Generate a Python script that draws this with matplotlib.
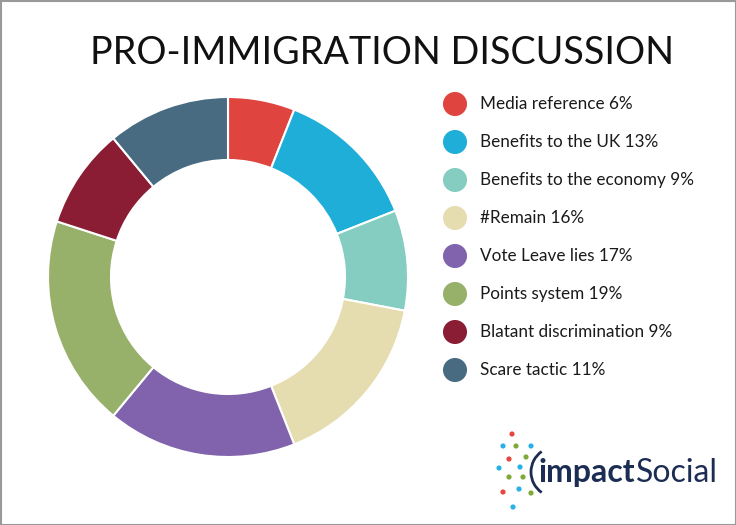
import matplotlib
matplotlib.use("Agg")
import matplotlib.pyplot as plt
from matplotlib.patches import Arc, Rectangle

categories = ["Media reference", "Benefits to the UK", "Benefits to the economy",
              "#Remain", "Vote Leave lies", "Points system",
              "Blatant discrimination", "Scare tactic"]
values = [6, 13, 9, 16, 17, 19, 9, 11]
colors = ["#E0443E", "#1FAED8", "#84CDC0", "#E5DDB0",
          "#8063AC", "#97B06A", "#8A1D33", "#486B82"]
title = "PRO-IMMIGRATION DISCUSSION"

W, H = 736, 525
fig = plt.figure(figsize=(W / 100, H / 100), dpi=100)
fig.patch.set_facecolor("white")

# donut
cx, cy, R = 228, 277, 180
ax = fig.add_axes([(cx - R) / W, 1 - (cy + R) / H, 2 * R / W, 2 * R / H])
ax.pie(values, colors=colors, startangle=90, counterclock=False, radius=1.0,
       wedgeprops=dict(width=0.35, edgecolor="white", linewidth=1.5))
ax.set_xlim(-1, 1)
ax.set_ylim(-1, 1)
ax.set_aspect("equal")
ax.axis("off")

# overlay in pixel coordinates
lax = fig.add_axes([0, 0, 1, 1])
lax.set_xlim(0, W)
lax.set_ylim(H, 0)
lax.axis("off")
lax.set_zorder(5)
lax.patch.set_alpha(0)

font = "Lato"
lax.text(382, 53, title, ha="center", va="center", fontsize=27.2,
         family=font, color="#111111")

y0, dy = 104, 38
for i, (c, v, col) in enumerate(zip(categories, values, colors)):
    y = y0 + dy * i
    lax.scatter([455], [y], s=300, color=col, edgecolors="none")
    lax.text(480, y, f"{c} {v}%", ha="left", va="center", fontsize=12.3,
             family=font, color="#1a1a1a")

# logo
dots = [(512, 434, "#E8453C"), (503, 446, "#27B1E6"), (516, 446, "#7FAA3A"),
        (531, 446, "#27B1E6"), (509, 459, "#E8453C"), (526, 457, "#7FAA3A"),
        (499, 468, "#27B1E6"), (520, 467, "#27B1E6"), (509, 477, "#7FAA3A"),
        (523, 477, "#7FAA3A"), (503, 492, "#E8453C"), (519, 489, "#27B1E6"),
        (531, 493, "#7FAA3A"), (513, 507, "#27B1E6")]
for x, y, c in dots:
    lax.scatter([x], [y], s=14, color=c, edgecolors="none")
lax.add_patch(Arc((556, 472), 50, 50, theta1=125, theta2=235,
                  color="#1C2D54", linewidth=2))
navy = "#1C2D54"
t1 = lax.text(538, 482, "impact", ha="left", va="baseline", fontsize=23,
              family=font, weight="bold", color=navy)
fig.canvas.draw()
bb = t1.get_window_extent(renderer=fig.canvas.get_renderer())
x_end = bb.x1  # pixels, same as data units horizontally
lax.text(x_end + 1, 482, "Social", ha="left", va="baseline", fontsize=23,
         family=font, color=navy)

# border
lax.add_patch(Rectangle((0.5, 0.5), W - 1, H - 1, fill=False,
                        edgecolor="#999999", linewidth=1.5))

fig.savefig("out.png", dpi=100)
